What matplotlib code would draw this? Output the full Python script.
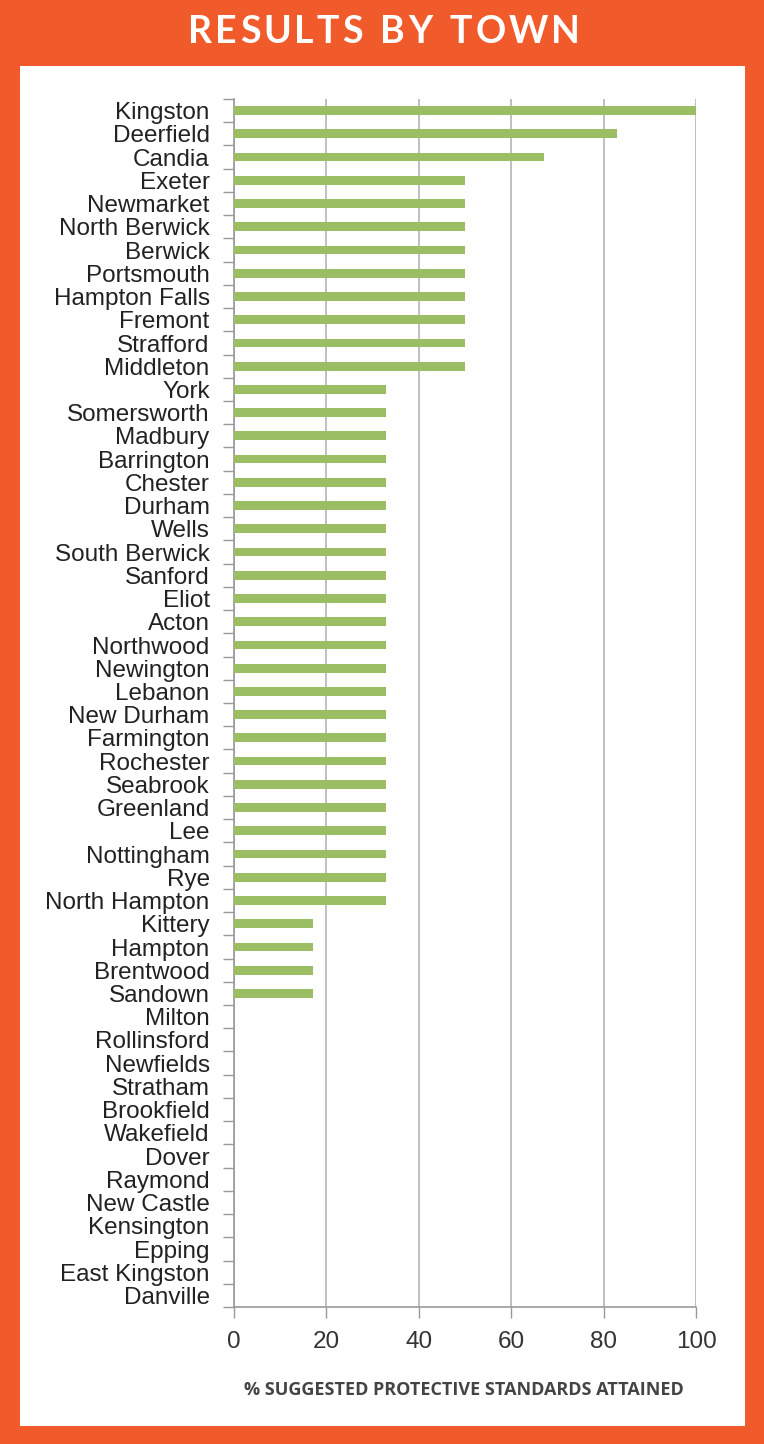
import numpy as np
import matplotlib.pyplot as plt
from matplotlib.patches import Rectangle

towns = ['Kingston', 'Deerfield', 'Candia', 'Exeter', 'Newmarket', 'North Berwick',
         'Berwick', 'Portsmouth', 'Hampton Falls', 'Fremont', 'Strafford', 'Middleton',
         'York', 'Somersworth', 'Madbury', 'Barrington', 'Chester', 'Durham', 'Wells',
         'South Berwick', 'Sanford', 'Eliot', 'Acton', 'Northwood', 'Newington',
         'Lebanon', 'New Durham', 'Farmington', 'Rochester', 'Seabrook', 'Greenland',
         'Lee', 'Nottingham', 'Rye', 'North Hampton', 'Kittery', 'Hampton', 'Brentwood',
         'Sandown', 'Milton', 'Rollinsford', 'Newfields', 'Stratham', 'Brookfield',
         'Wakefield', 'Dover', 'Raymond', 'New Castle', 'Kensington', 'Epping',
         'East Kingston', 'Danville']
pct_attained = [100, 83, 67,
                50, 50, 50, 50, 50, 50, 50, 50, 50,
                33, 33, 33, 33, 33, 33, 33, 33, 33, 33, 33, 33,
                33, 33, 33, 33, 33, 33, 33, 33, 33, 33, 33,
                17, 17, 17, 17,
                0, 0, 0, 0, 0, 0, 0, 0, 0, 0, 0, 0, 0]
xticks = [0, 20, 40, 60, 80, 100]

ORANGE = '#f15a2a'
GREEN = '#9bbe65'
GRID = '#b4b4b4'

fig = plt.figure(figsize=(7.64, 14.44), dpi=100)
fig.patch.set_facecolor(ORANGE)

# white panel inside the orange frame
fig.add_artist(Rectangle((20 / 764, 1 - 1426 / 1444), 725 / 764, 1360 / 1444,
                         transform=fig.transFigure, facecolor='white',
                         edgecolor='none', zorder=0))

# letter-spaced title
title = 'RESULTS BY TOWN'
renderer = fig.canvas.get_renderer()
tracking = 3.0
widths = []
for ch in title:
    t = fig.text(0, 0, ch if ch != ' ' else 'n', fontsize=27, fontweight='bold',
                 family='Lato')
    widths.append(t.get_window_extent(renderer).width * (0.55 if ch == ' ' else 1.0))
    t.remove()
total = sum(widths) + tracking * (len(title) - 1)
x = 384 - total / 2
for ch, w in zip(title, widths):
    if ch != ' ':
        fig.text(x / 764, 1 - 32 / 1444, ch, fontsize=27, fontweight='bold',
                 family='Lato', color='white', va='center', ha='left')
    x += w + tracking

ax = fig.add_axes([234 / 764, 1 - 1307 / 1444, 462 / 764, 1208 / 1444])
ax.set_facecolor('none')
y = np.arange(len(towns))
ax.barh(y, pct_attained, height=0.38, color=GREEN, zorder=3)

ax.set_xlim(0, 100)
ax.set_ylim(len(towns) - 0.5, -0.5)
ax.set_xticks(xticks)

# town names: baseline set so the capitals sit centred on each row
ax.set_yticks([])
for i, name in enumerate(towns):
    ax.annotate(name, xy=(0, i), xycoords=('axes fraction', 'data'),
                xytext=(-17.5, -6.2), textcoords='offset points',
                ha='right', va='baseline', fontsize=17.5, color='#222222',
                family='Liberation Sans')
ax.set_yticks(np.arange(len(towns) + 1) - 0.5, minor=True)
ax.tick_params(axis='y', which='minor', length=8, width=1, color='#999999')
ax.tick_params(axis='x', length=8, width=1, color='#999999', labelsize=17.5,
               labelcolor='#333333', pad=9)
for lab in ax.get_xticklabels():
    lab.set_family('Liberation Sans')

ax.grid(axis='x', color=GRID, linewidth=1.2, zorder=0)
for side in ['top', 'right']:
    ax.spines[side].set_visible(False)
for side in ['left', 'bottom']:
    ax.spines[side].set_color('#999999')
    ax.spines[side].set_linewidth(1.2)

fig.text(464 / 764, 1 - 1390 / 1444, '% SUGGESTED PROTECTIVE STANDARDS ATTAINED',
         fontsize=13, fontweight='bold', family='Open Sans', color='#444444',
         ha='center', va='center')

fig.savefig('out.png', dpi=100, facecolor=fig.get_facecolor())
